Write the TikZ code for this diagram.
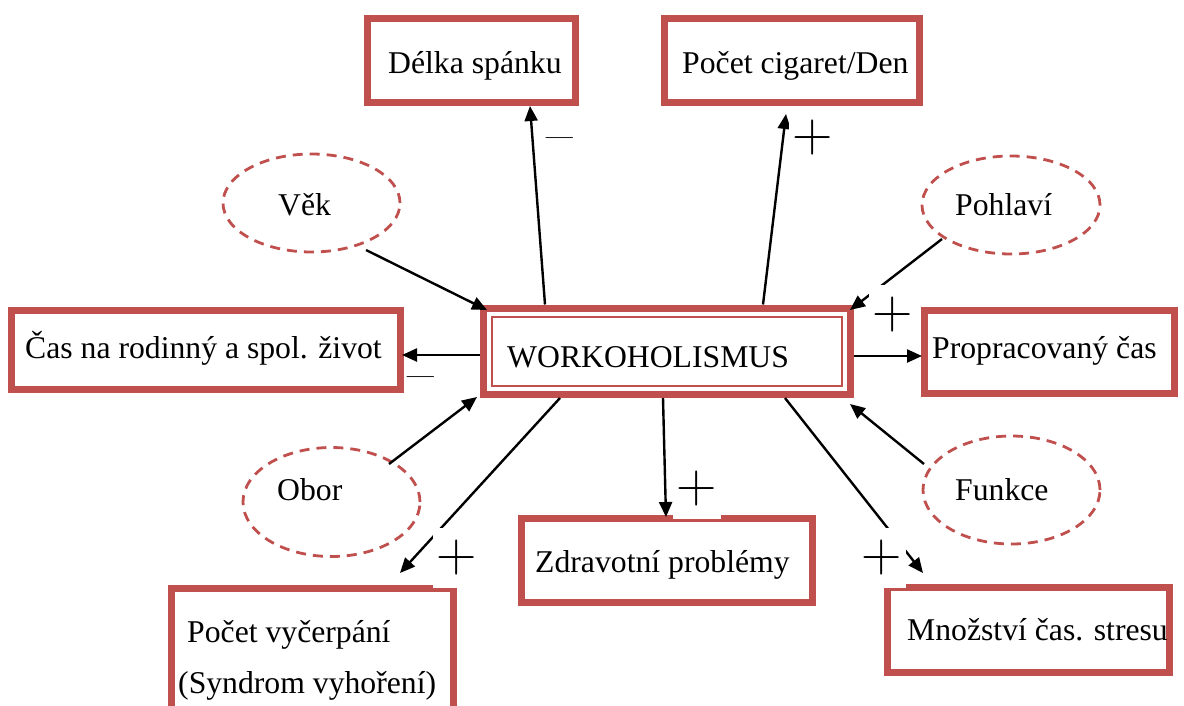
\documentclass[tikz,border=0pt]{standalone}
\usepackage{fontspec}
\setmainfont{Liberation Serif}
\usetikzlibrary{arrows.meta,shapes.geometric}
\definecolor{boxred}{HTML}{C0504D}
\tikzset{
  redbox/.style={draw=boxred, line width=7pt, rectangle, inner sep=0pt, fill=white},
  oval/.style={draw=boxred, line width=2.8pt, ellipse, inner sep=0pt, dash pattern=on 10pt off 7pt},
  txt/.style={inner sep=0pt, anchor=base west, font=\fontsize{31.7}{38}\selectfont},
  arr/.style={line width=2.4pt, -{Triangle[length=15pt,width=13pt]}},
  plus/.style={fill=white, inner sep=0pt, minimum width=48pt, minimum height=60pt, font=\fontfamily{lmr}\fontsize{56}{56}\selectfont},
  minus/.style={inner sep=0pt, font=\fontfamily{lmr}\fontsize{58}{58}\selectfont}
}
\begin{document}
\begin{tikzpicture}[x=1pt,y=-1pt]
\useasboundingbox (0,0) rectangle (1184,705);
\clip (0,0) rectangle (1184,705);
% boxes
\node[redbox, minimum width=207.5pt, minimum height=84pt] (del) at (471.25,60.5) {};
\node[redbox, minimum width=255.5pt, minimum height=84pt] (cig) at (791.75,60.5) {};
\node[redbox, minimum width=388.5pt, minimum height=78.5pt] (cas) at (205.75,349.75) {};
\node[redbox, minimum width=366.5pt, minimum height=86.5pt] (wk) at (666.75,351.25) {};
\draw[boxred, line width=2pt] ([shift={(12,12.5)}]wk.north west) rectangle ([shift={(-11.5,-12)}]wk.south east);
\node[redbox, minimum width=250pt, minimum height=83pt] (prop) at (1049,352) {};
\node[redbox, minimum width=291pt, minimum height=83.5pt] (zd) at (667,560.25) {};
\node[redbox, minimum width=282pt, minimum height=123.5pt] (pv) at (312.5,650.25) {};
\node[redbox, minimum width=281.5pt, minimum height=85.5pt] (mn) at (1028.25,629.75) {};
% ellipses
\node[oval, minimum width=177pt, minimum height=98pt] (vek) at (311.5,203) {};
\node[oval, minimum width=178pt, minimum height=98pt] (poh) at (1011,205) {};
\node[oval, minimum width=177pt, minimum height=109pt] (obor) at (331.5,502) {};
\node[oval, minimum width=177pt, minimum height=108pt] (fun) at (1011.5,490) {};
% texts
\node[txt] (tdel) at (388,73) {Délka spánku};
\node[txt] (tcig) at (682,73) {Počet cigaret/Den};
\node[txt] (tcas) at (25,358) {Čas na rodinný a spol. život};
\node[txt] (twk) at (507,367) {WORKOHOLISMUS};
\node[txt] (tprop) at (932,358) {Propracovaný čas};
\node[txt] (tzd) at (535,572) {Zdravotní problémy};
\node[txt] (tpv1) at (187,642) {Počet vyčerpání};
\node[txt] (tpv2) at (178,693) {(Syndrom vyhoření)};
\node[txt] (tmn) at (907,640) {Množství čas. stresu};
\node[txt] (tvek) at (278,215) {Věk};
\node[txt] (tpoh) at (955,215) {Pohlaví};
\node[txt] (tobor) at (277,500) {Obor};
\node[txt] (tfun) at (955,500) {Funkce};
% arrows
\draw[arr] ([shift={(-121.75,0)}]wk.north) -- ([shift={(58.75,0)}]del.south);
\draw[arr] ([shift={(96.25,0)}]wk.north) -- ([shift={(-5.75,8)}]cig.south);
\draw[arr] ([shift={(54.5,47)}]vek.center) -- ([shift={(7,5.5)}]wk.north west);
\draw[arr] ([shift={(-69,34)}]poh.center) -- ([shift={(-3.5,5.5)}]wk.north east);
\draw[arr] ([shift={(0,3.75)}]wk.west) -- ([shift={(-1.5,5.25)}]cas.east);
\draw[arr] ([shift={(0,4.75)}]wk.east) -- ([shift={(1.5,4)}]prop.west);
\draw[arr] ([shift={(57.5,-38)}]obor.center) -- ([shift={(-3,-1)}]wk.south west);
\draw[arr] ([shift={(-106.75,0)}]wk.south) -- ([shift={(87.5,-12)}]pv.north);
\draw[arr] ([shift={(-3.75,0)}]wk.south) -- ([shift={(-1,2)}]zd.north);
\draw[arr] ([shift={(-87.5,-26)}]fun.center) -- ([shift={(-3.5,6)}]wk.south east);
\draw[arr] ([shift={(118.25,0)}]wk.south) -- ([shift={(-105.25,-10.5)}]mn.north);
% signs
\node[minus] (m1) at (560,146) {–};
\node[plus] (p1) at (813,138) {+};
\node[plus] (p2) at (893,315) {+};
\node[minus] (m2) at (421,385) {–};
\node[plus] (p3) at (457,558) {+};
\node[plus] (p4) at (697,489) {+};
\node[plus] (p5) at (882,558) {+};
\end{tikzpicture}
\end{document}
